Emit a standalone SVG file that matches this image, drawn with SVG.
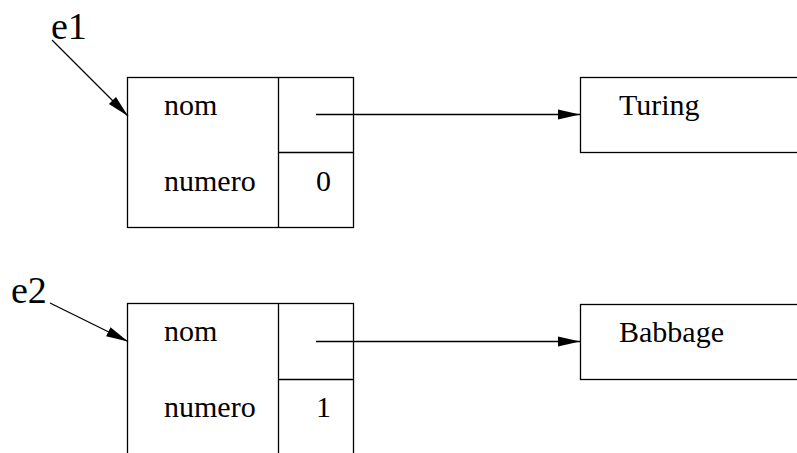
<svg xmlns="http://www.w3.org/2000/svg" width="797" height="453" viewBox="0 0 797 453">
<style>
.box{fill:none;stroke:#000;stroke-width:1.3}
.t{font-size:30px;fill:#000}
.lbl{font-size:38px;fill:#000}
.c{fill:none;stroke:#000;stroke-width:1.3}
</style>
<defs>
<marker id="ah" markerUnits="userSpaceOnUse" markerWidth="24" markerHeight="14" refX="22" refY="6" orient="auto" viewBox="0 0 24 12">
<path d="M0,1 L22,6 L0,11 Z" fill="#000"/>
</marker>
</defs>
<rect width="797" height="453" fill="#fff"/>
<g font-family="'Liberation Serif', 'Times New Roman', 'DejaVu Serif', serif">
<g id="e1-struct">
<rect class="box" x="127.5" y="77.5" width="226" height="150"/>
<line class="box" x1="278.5" y1="77.5" x2="278.5" y2="227.5"/>
<line class="box" x1="278.5" y1="152.5" x2="353.5" y2="152.5"/>
<text class="t" x="164" y="115">nom</text>
<text class="t" x="164" y="191">numero</text>
<text class="t" x="316" y="191">0</text>
</g>
<g id="turing">
<rect class="box" x="580.5" y="77.5" width="230" height="75"/>
<text class="t" x="619" y="115">Turing</text>
</g>
<g id="e2-struct">
<rect class="box" x="127.5" y="303.5" width="226" height="160"/>
<line class="box" x1="278.5" y1="303.5" x2="278.5" y2="463"/>
<line class="box" x1="278.5" y1="379.5" x2="353.5" y2="379.5"/>
<text class="t" x="164" y="341">nom</text>
<text class="t" x="164" y="417">numero</text>
<text class="t" x="316" y="417">1</text>
</g>
<g id="babbage">
<rect class="box" x="580.5" y="304.5" width="230" height="75"/>
<text class="t" x="619" y="342">Babbage</text>
</g>
<g id="labels">
<text class="lbl" x="51" y="39">e1</text>
<text class="lbl" x="11" y="303">e2</text>
</g>
</g>
<g id="connectors">
<line class="c" x1="52" y1="40" x2="128" y2="116" marker-end="url(#ah)"/>
<line class="c" x1="50" y1="303" x2="128" y2="341.5" marker-end="url(#ah)"/>
<line class="c" x1="316" y1="114.5" x2="580" y2="114.5" marker-end="url(#ah)"/>
<line class="c" x1="316" y1="341.5" x2="580" y2="341.5" marker-end="url(#ah)"/>
</g>
</svg>
